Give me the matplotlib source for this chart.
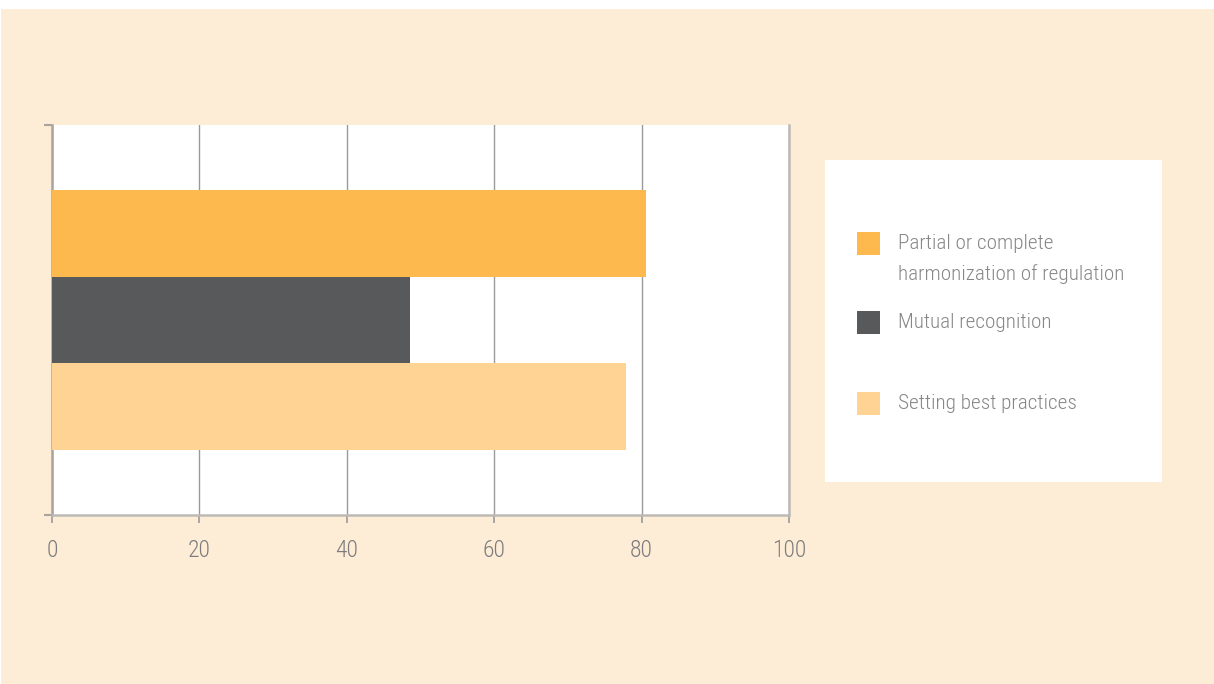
import matplotlib
matplotlib.use("Agg")
import matplotlib.pyplot as plt
from matplotlib.patches import Rectangle

# Data
categories = [
    "Partial or complete\nharmonization of regulation",
    "Mutual recognition",
    "Setting best practices",
]
values = [80.6, 48.6, 77.9]
colors = ["#FDB94D", "#58595B", "#FED393"]
x_ticks = [0, 20, 40, 60, 80, 100]

FONT = ["Roboto Condensed", "Roboto", "DejaVu Sans"]
plt.rcParams["font.family"] = FONT
plt.rcParams["font.weight"] = 300

W, H = 1214, 684
fig = plt.figure(figsize=(W / 100, H / 100), dpi=100, facecolor="white")

# cream page background
fig.patches.append(Rectangle((1 / W, 0), 1, (H - 9) / H, transform=fig.transFigure,
                             facecolor="#FDEDD7", edgecolor="none", zorder=-10))

def px_axes(x0, y0, x1, y1):
    return fig.add_axes([x0 / W, 1 - y1 / H, (x1 - x0) / W, (y1 - y0) / H])

ax = px_axes(52, 125, 789, 515)
ax.set_facecolor("white")

pos = [2, 1, 0]
ax.barh(pos, values, height=1.0, color=colors, edgecolor="none", zorder=3)
ax.set_xlim(0, 100)
ax.set_ylim(-1.25, 3.25)

ax.set_xticks(x_ticks)
ax.set_xticklabels([str(t) for t in x_ticks])
ax.set_yticks([-1.25, 3.25])
ax.set_yticklabels([])
ax.grid(axis="x", color="#9a9a9a", linewidth=1.0, zorder=1)
ax.set_axisbelow(True)

ax.spines["top"].set_visible(False)
ax.spines["left"].set_color("#a8a49e")
ax.spines["left"].set_linewidth(1.8)
ax.spines["bottom"].set_color("#bdbab5")
ax.spines["bottom"].set_linewidth(1.8)
ax.spines["right"].set_color("#bdbab5")
ax.spines["right"].set_linewidth(1.8)

ax.tick_params(axis="x", length=6, width=1.2, color="#9a9a9a", pad=11,
               labelsize=17, labelcolor="#7c7c7c")
ax.tick_params(axis="y", length=6, width=1.5, color="#a8a49e")

# legend panel
lax = px_axes(825, 160, 1162, 482)
lax.set_xlim(825, 1162)
lax.set_ylim(482, 160)
lax.set_facecolor("white")
for s in lax.spines.values():
    s.set_visible(False)
lax.set_xticks([])
lax.set_yticks([])

entry_y = [243, 322, 403]
for label, color, y in zip(categories, colors, entry_y):
    lax.add_patch(Rectangle((857, y - 11.5), 23, 23, facecolor=color, edgecolor="none"))
    lines = label.split("\n")
    for i, line in enumerate(lines):
        lax.text(898, y + i * 31, line, fontsize=15.3, color="#878787", va="center")

fig.savefig("out.png", dpi=100, facecolor=fig.get_facecolor())
